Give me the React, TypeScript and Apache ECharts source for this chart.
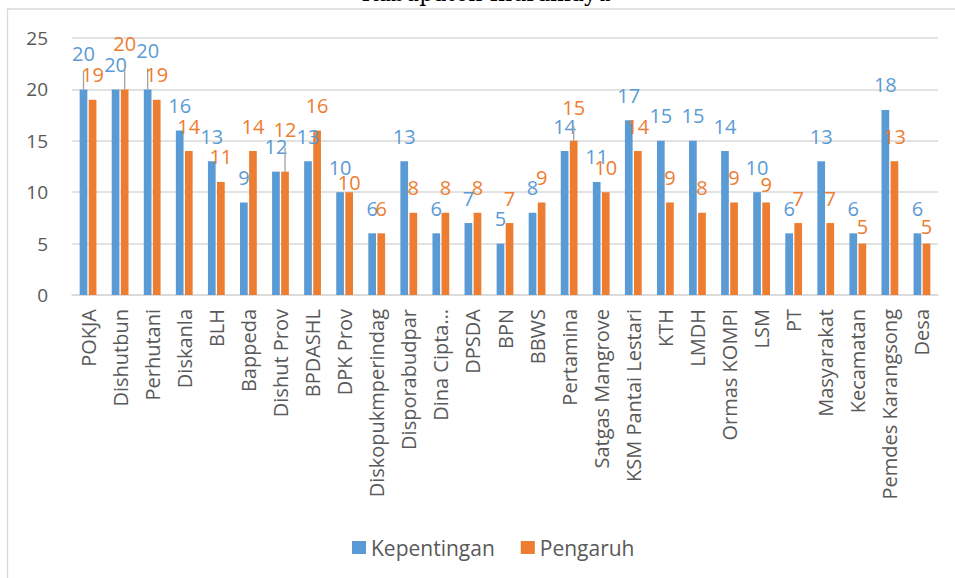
import React, { useEffect, useRef } from "react";
import * as echarts from "echarts";

const categories = [
  "POKJA", "Dishutbun", "Perhutani", "Diskanla", "BLH", "Bappeda", "Dishut Prov", "BPDASHL",
  "DPK Prov", "Diskopukmperindag", "Disporabudpar", "Dina Cipta…", "DPSDA", "BPN", "BBWS",
  "Pertamina", "Satgas Mangrove", "KSM Pantai Lestari", "KTH", "LMDH", "Ormas KOMPI", "LSM",
  "PT", "Masyarakat", "Kecamatan", "Pemdes Karangsong", "Desa",
];
const kepentingan = [20, 20, 20, 16, 13, 9, 12, 13, 10, 6, 13, 6, 7, 5, 8, 14, 11, 17, 15, 15, 14, 10, 6, 13, 6, 18, 6];
const pengaruh = [19, 20, 19, 14, 11, 14, 12, 16, 10, 6, 8, 8, 8, 7, 9, 15, 10, 14, 9, 8, 9, 9, 7, 7, 5, 13, 5];
const seriesNames = ["Kepentingan", "Pengaruh"];
const titleText = "Kabupaten Indramayu";
const yMin = 0;
const yMax = 25;
const yInterval = 5;

// label nudges (pixels upward) and leader lines, as in the reference
const kepShift: Record<number, number> = { 0: 11, 2: 14 };
const kepLeader = new Set([0, 2]);
const pengShift: Record<number, number> = { 1: 21, 6: 17, 8: -15.5, 15: 8, 21: -7, 24: -8, 26: -8 };
const pengLeader = new Set([1, 6, 15]);

const BLUE = "#5B9BD5";
const ORANGE = "#ED7D31";
const FONT = "Open Sans";
const BASE_DIST = 9;
const LINE_H = 32;
const LEADER_TEXT_H = 36;

function buildData(values: number[], shift: Record<number, number>, leaders: Set<number>, color: string) {
  return values.map((v, i) => {
    const s = shift[i];
    if (s === undefined) return v;
    if (leaders.has(i)) {
      const len = BASE_DIST + LINE_H / 2 + s - LEADER_TEXT_H / 2;
      return {
        value: v,
        label: {
          distance: 0,
          formatter: "{t|{c}}\n{l|}",
          rich: {
            t: { color, fontFamily: FONT, fontSize: 20, lineHeight: LEADER_TEXT_H },
            l: { width: 1.4, height: len, lineHeight: len, backgroundColor: "#A6A6A6" },
          },
        },
      };
    }
    return { value: v, label: { distance: BASE_DIST + s } };
  });
}

export default function App() {
  const ref = useRef<HTMLDivElement>(null);
  useEffect(() => {
    if (!ref.current) return;
    const chart = echarts.init(ref.current, undefined, { renderer: "svg" });
    const labelBase = (color: string) => ({
      show: true,
      position: "top" as const,
      distance: BASE_DIST,
      color,
      fontFamily: FONT,
      fontSize: 20,
      lineHeight: LINE_H,
    });
    chart.setOption({
      animation: false,
      backgroundColor: "#ffffff",
      textStyle: { fontFamily: FONT },
      graphic: [
        {
          type: "rect",
          shape: { x: 7.5, y: 9, width: 1000, height: 1000 },
          style: { fill: "none", stroke: "#D9D9D9", lineWidth: 1.3 },
          silent: true,
        },
        {
          type: "text",
          x: 486,
          y: 4,
          style: {
            text: titleText,
            font: "22px 'DejaVu Serif'",
            fill: "#000000",
            textAlign: "center",
            textVerticalAlign: "bottom",
          },
          silent: true,
        },
      ],
      legend: {
        left: 352,
        top: 537,
        padding: 0,
        itemWidth: 14,
        itemHeight: 13,
        itemGap: 26,
        icon: "rect",
        textStyle: { color: "#595959", fontSize: 21, fontFamily: FONT },
        data: seriesNames,
      },
      grid: { left: 72, right: 17, top: 38, bottom: 283, containLabel: false },
      xAxis: {
        type: "category",
        data: categories,
        axisLine: { show: true, lineStyle: { color: "#D9D9D9", width: 1.5 } },
        axisTick: { show: false },
        axisLabel: {
          interval: 0,
          rotate: 90,
          margin: 14,
          color: "#595959",
          fontSize: 20,
          fontFamily: FONT,
        },
      },
      yAxis: {
        type: "value",
        min: yMin,
        max: yMax,
        interval: yInterval,
        axisLine: { show: false },
        axisTick: { show: false },
        splitLine: { lineStyle: { color: "#D9D9D9", width: 1.5 } },
        axisLabel: { color: "#595959", fontSize: 19, margin: 24, fontFamily: FONT },
      },
      series: [
        {
          name: seriesNames[0],
          type: "bar",
          barWidth: 7.7,
          barGap: "18%",
          itemStyle: { color: BLUE },
          label: labelBase(BLUE),
          data: buildData(kepentingan, kepShift, kepLeader, BLUE),
        },
        {
          name: seriesNames[1],
          type: "bar",
          barWidth: 7.7,
          barGap: "18%",
          itemStyle: { color: ORANGE },
          label: labelBase(ORANGE),
          data: buildData(pengaruh, pengShift, pengLeader, ORANGE),
        },
      ],
    });
    return () => chart.dispose();
  }, []);
  return (
    <div
      ref={ref}
      style={{ position: "fixed", left: 0, top: 0, width: 955, height: 578, background: "#fff" }}
    />
  );
}
